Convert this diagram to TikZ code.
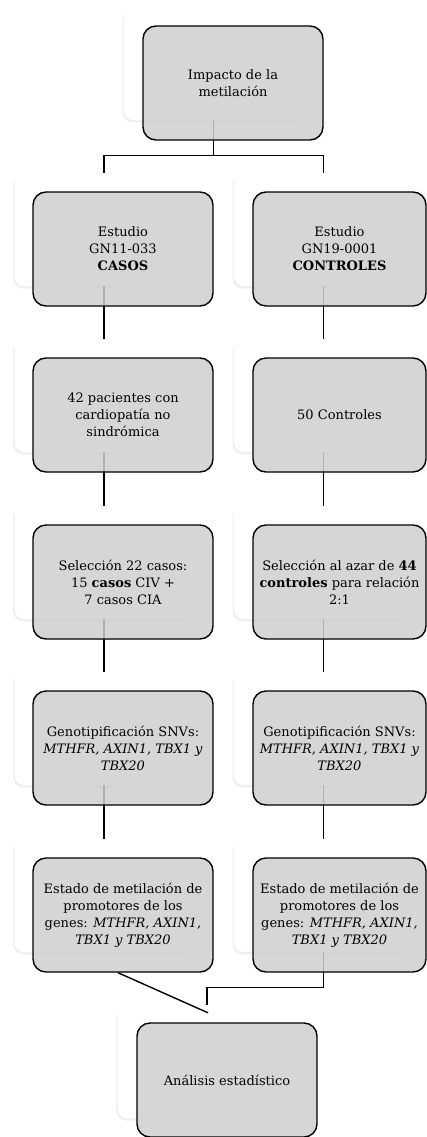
\documentclass[tikz,border=0pt]{standalone}
\usepackage{fontspec}
\setmainfont{DejaVu Serif}
\usetikzlibrary{shadows}

\tikzset{
  backbox/.style={fill=white, rounded corners=10pt, inner sep=0pt,
    minimum width=179pt, minimum height=113pt,
    drop shadow={shadow xshift=-1.5pt, shadow yshift=-2.5pt, opacity=0.12}},
  frontbox/.style={draw=black, line width=1.4pt, fill=black!19,
    fill opacity=0.85, text opacity=1, rounded corners=13pt, inner sep=0pt,
    minimum width=180pt, minimum height=114pt, align=center,
    font=\fontsize{13}{17}\selectfont},
  link/.style={line width=1.4pt}
}

\begin{document}
\begin{tikzpicture}[x=1pt, y=-1pt]
\useasboundingbox (0,0) rectangle (427,1137);

\node [backbox] (topw) at (213.5,63.5) {};
\node [backbox] (cas1w) at (104,229.5) {};
\node [backbox] (con1w) at (323.5,229.5) {};
\node [backbox] (cas2w) at (104,395.5) {};
\node [backbox] (con2w) at (323.5,395.5) {};
\node [backbox] (cas3w) at (104,562.5) {};
\node [backbox] (con3w) at (323.5,562.5) {};
\node [backbox] (cas4w) at (104,728.5) {};
\node [backbox] (con4w) at (323.5,728.5) {};
\node [backbox] (cas5w) at (104,895.5) {};
\node [backbox] (con5w) at (323.5,895.5) {};
\node [backbox] (finw) at (207,1061.5) {};

\draw [link] (topw.south) -- ++(0,35) -| (cas1w.north);
\draw [link] (topw.south) -- ++(0,35) -| (con1w.north);
\draw [link] (cas1w.south) -- (cas2w.north);
\draw [link] (cas2w.south) -- (cas3w.north);
\draw [link] (cas3w.south) -- (cas4w.north);
\draw [link] (cas4w.south) -- (cas5w.north);
\draw [link] (con1w.south) -- (con2w.north);
\draw [link] (con2w.south) -- (con3w.north);
\draw [link] (con3w.south) -- (con4w.north);
\draw [link] (con4w.south) -- (con5w.north);
\draw [link] (con5w.south) -- ++(0,35) -| (finw.north);

\node [frontbox] (top) at (233,83) {Impacto de la\\metilación};
\node [frontbox] (cas1) at (123,249) {Estudio\\GN11-033\\\textbf{CASOS}};
\node [frontbox, minimum width=173pt] (con1) at (339.5,249) {Estudio\\GN19-0001\\\textbf{CONTROLES}};
\node [frontbox] (cas2) at (123,415) {42 pacientes con\\cardiopatía no\\sindrómica};
\node [frontbox, minimum width=173pt] (con2) at (339.5,415) {50 Controles};
\node [frontbox] (cas3) at (123,582) {Selección 22 casos:\\15 \textbf{casos} CIV +\\7 casos CIA};
\node [frontbox, minimum width=173pt] (con3) at (339.5,582) {Selección al azar de \textbf{44}\\\textbf{controles} para relación\\2:1};
\node [frontbox] (cas4) at (123,748) {Genotipificación SNVs:\\\textit{MTHFR, AXIN1, TBX1 y}\\\textit{TBX20}};
\node [frontbox, minimum width=173pt] (con4) at (339.5,748) {Genotipificación SNVs:\\\textit{MTHFR, AXIN1, TBX1 y}\\\textit{TBX20}};
\node [frontbox] (cas5) at (123,915) {Estado de metilación de\\promotores de los\\genes: \textit{MTHFR, AXIN1,}\\\textit{TBX1 y TBX20}};
\node [frontbox, minimum width=173pt] (con5) at (339.5,915) {Estado de metilación de\\promotores de los\\genes: \textit{MTHFR, AXIN1,}\\\textit{TBX1 y TBX20}};
\node [frontbox] (fin) at (227,1080) {Análisis estadístico};

\coordinate (finin) at ([shift={(1,8)}]finw.north);
\draw [link] ([xshift=-5pt]cas5.south) -- (finin);

\end{tikzpicture}
\end{document}
